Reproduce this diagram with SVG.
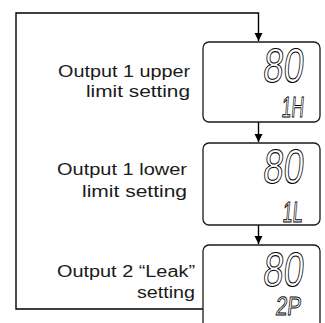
<svg xmlns="http://www.w3.org/2000/svg" width="325" height="323" viewBox="0 0 325 323">
<defs>
<style>
.lbl{font-family:"Liberation Sans",Arial,sans-serif;font-size:16px;fill:#1a1a1a}
.box{fill:#fff;stroke:#1a1a1a;stroke-width:1.3}
.con{fill:none;stroke:#000;stroke-width:1.4}
.big{font-family:"Liberation Sans",Arial,sans-serif;font-size:48px;fill:#fff;stroke:#000;stroke-width:1}
.sm{font-family:"Liberation Sans",Arial,sans-serif;font-size:29px;fill:#fff;stroke:#000;stroke-width:1}
</style>
<marker id="ah" viewBox="0 0 10 10" refX="10" refY="5" markerWidth="8" markerHeight="12" markerUnits="userSpaceOnUse" orient="auto">
<path d="M0,0 L10,5 L0,10 Z" fill="#000"/>
</marker>
</defs>
<g id="connectors">
<path class="con" d="M203,309 H16 V13 H258.5 V41" marker-end="url(#ah)"/>
<path class="con" d="M258.5,122 V142" marker-end="url(#ah)"/>
<path class="con" d="M258.5,225 V244" marker-end="url(#ah)"/>
</g>
<g id="node1">
<text class="lbl" x="58" y="77" textLength="132" lengthAdjust="spacingAndGlyphs">Output 1 upper</text>
<text class="lbl" x="86" y="97" textLength="104" lengthAdjust="spacingAndGlyphs">limit setting</text>
<rect class="box" x="203" y="42" width="117" height="80" rx="6"/>
<text class="big" transform="translate(262,82) scale(0.76,1) skewX(-8)">80</text>
<text class="sm" transform="translate(281,117) scale(0.6,1) skewX(-8)">1H</text>
</g>
<g id="node2">
<text class="lbl" x="57" y="175" textLength="130" lengthAdjust="spacingAndGlyphs">Output 1 lower</text>
<text class="lbl" x="82" y="197" textLength="105" lengthAdjust="spacingAndGlyphs">limit setting</text>
<rect class="box" x="203" y="143" width="117" height="82" rx="6"/>
<text class="big" transform="translate(262,183) scale(0.76,1) skewX(-8)">80</text>
<text class="sm" transform="translate(282,222) scale(0.62,1) skewX(-8)">1L</text>
</g>
<g id="node3">
<text class="lbl" x="57" y="277" textLength="138" lengthAdjust="spacingAndGlyphs">Output 2 “Leak”</text>
<text class="lbl" x="137" y="298" textLength="58" lengthAdjust="spacingAndGlyphs">setting</text>
<rect class="box" x="203" y="245" width="117" height="100" rx="6"/>
<text class="big" transform="translate(262,286) scale(0.76,1) skewX(-8)">80</text>
<text class="sm" transform="translate(275,315) scale(0.72,0.9) skewX(-8)">2P</text>
</g>
</svg>
